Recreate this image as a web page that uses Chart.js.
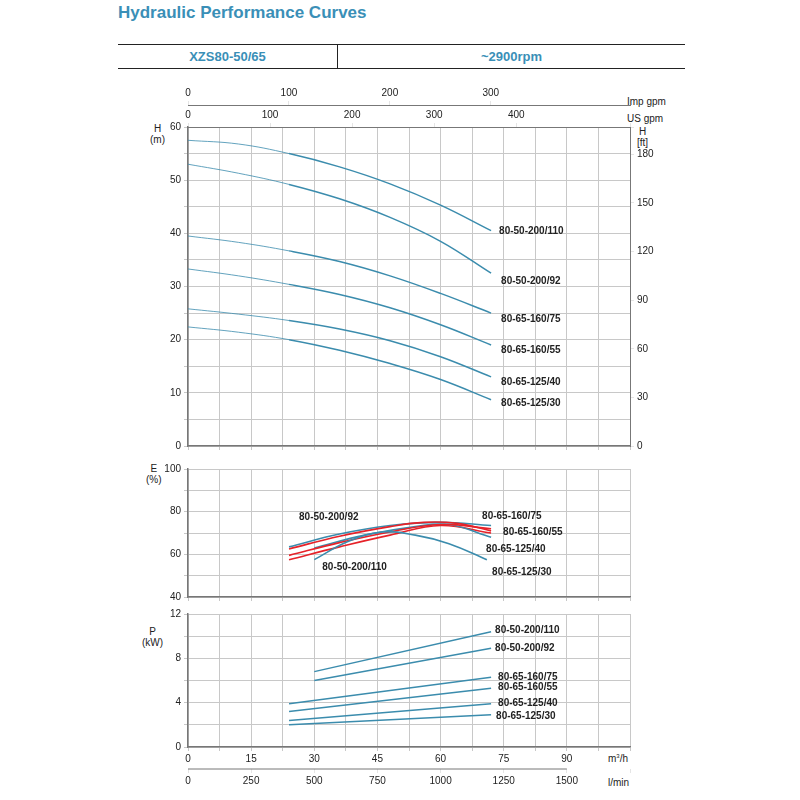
<!DOCTYPE html>
<html><head><meta charset="utf-8">
<script src="https://cdn.jsdelivr.net/npm/chart.js@4/dist/chart.umd.min.js"></script>
<style>
body{margin:0;width:800px;height:800px;position:relative;font-family:Arial,"Liberation Sans",sans-serif;background:#fff}
canvas{position:absolute}
.t{position:absolute;font-size:10px;color:#222;line-height:11px}
</style></head><body>
<div class="t" style="left:118px;top:3px;font-size:17px;line-height:20px;font-weight:bold;color:#3a8fb7">Hydraulic Performance Curves</div>
<div style="position:absolute;left:118px;top:44px;width:567px;height:23px;border-top:1.5px solid #222;border-bottom:1.5px solid #222"></div>
<div style="position:absolute;left:337px;top:44px;width:1px;height:25px;background:#222"></div>
<div class="t" style="left:118px;top:50px;width:219px;text-align:center;font-size:13px;line-height:14px;font-weight:bold;color:#3a8fb7">XZS80-50/65</div>
<div class="t" style="left:338px;top:50px;width:347px;text-align:center;font-size:13px;line-height:14px;font-weight:bold;color:#3a8fb7">~2900rpm</div>
<div class="t" style="left:627px;top:96px">Imp gpm</div>
<div class="t" style="left:627px;top:113px">US gpm</div>
<div class="t" style="left:150px;top:123px;text-align:center">H<br>(m)</div>
<div class="t" style="left:637px;top:126px;text-align:center">H<br>[ft]</div>
<div class="t" style="left:146px;top:463px;text-align:center">E<br>(%)</div>
<div class="t" style="left:142px;top:626px;text-align:center">P<br>(kW)</div>
<div class="t" style="left:608px;top:751px">m<sup style="font-size:6px">3</sup>/h</div>
<div class="t" style="left:608px;top:777px">l/min</div>
<canvas id="cH" style="left:110px;top:85px" width="570" height="370"></canvas>
<canvas id="cE" style="left:110px;top:460px" width="570" height="146"></canvas>
<canvas id="cP" style="left:110px;top:605px" width="570" height="190"></canvas>
<script>
const names = ['80-50-200/110','80-50-200/92','80-65-160/75','80-65-160/55','80-65-125/40','80-65-125/30'];
const hFlow = [0,12,24,36,48,60,72];
const hHead = [
  [57.5,56.8,55,52.5,49.3,45.3,40.5],
  [53,51.3,49.2,46.5,43,38.5,32.5],
  [39.5,38.3,36.7,34.7,32,28.7,25],
  [33.3,32,30.4,28.5,26,22.8,19],
  [25.8,24.8,23.6,22,19.8,16.8,13],
  [22.4,21.4,20,18,15.5,12.5,8.7]
];
const effNames = ['80-50-200/110','80-50-200/92','80-65-160/75','80-65-160/55','80-65-125/40','80-65-125/30'];
const effFlow = [
  [30,38,46,54,62,71],
  [24,36,48,56,64,72],
  [24,36,48,60,72],
  [24,36,48,60,72],
  [30,42,54,62,72],
  [24,36,48,60,72]
];
const effVal = [
  [57.5,66,70.5,69,65,57.5],
  [62.5,68.5,73,75,74.5,71],
  [63.5,69.5,73.5,75,73.5],
  [59.5,65.5,70.5,74,72],
  [63,69,73,74,68],
  [57.5,63.5,69,73.5,70]
];
const effColor = ['blue','red','blue','red','blue','red'];
const pFlow = [[30,72],[30,72],[24,72],[24,72],[24,72],[24,72]];
const pVal = [[6.8,10.4],[6.0,8.9],[3.9,6.3],[3.2,5.3],[2.4,3.9],[2.0,2.9]];

// label placement per chart: [point index (-1 = last), dx, dy]
const labelPos = {
  cH: [[-1,8,1],[-1,10,8],[-1,10,6],[-1,10,5],[-1,10,5],[-1,10,4]],
  cE: [[0,8,8],[0,10,-32],[-1,-9,-9],[-1,12,4],[-1,-5,12],[-1,1,39]],
  cP: [[-1,4,-1],[-1,4,0],[-1,7,0],[-1,7,-1],[-1,7,-1],[-1,5,1]]
};

const BLUE = '#3b8cad', RED = '#e62229', GRID = '#c8c8c8';
Chart.defaults.font = {family:'Arial, Liberation Sans', size:10};
Chart.defaults.color = '#222';
Chart.defaults.animation = false;

const fixW = w => ax => { ax.width = w; };
const fixH = h => ax => { ax.height = h; };
const every = (step, max) => v => (Math.abs(v / step - Math.round(v / step)) < 1e-6 && v <= max) ? Math.round(v) : '';

const labelPlugin = {
  id: 'endLabels',
  afterDatasetsDraw(chart) {
    const pos = labelPos[chart.canvas.id];
    const ctx = chart.ctx;
    ctx.save();
    ctx.font = 'bold 10px Arial, Liberation Sans';
    ctx.fillStyle = '#222';
    ctx.textBaseline = 'middle';
    chart.data.datasets.forEach((ds, i) => {
      const [at, dx, dy] = pos[i];
      const pts = chart.getDatasetMeta(i).data;
      const p = pts[at < 0 ? pts.length - 1 : at];
      if (p) ctx.fillText(ds.label, p.x + dx, p.y + dy);
    });
    ctx.restore();
  }
};

const xMain = (showTicks, h) => ({
  type:'linear', min:0, max:105, afterFit:fixH(h),
  ticks:{stepSize:7.5, display:showTicks, maxRotation:0, autoSkip:false, padding:2, callback:every(15, 90)},
  grid:{color:GRID, tickLength:4},
  border:{color:'#777', width:1.5}
});

const seg = {borderWidth: c => c.p0.parsed.x < 23.9 ? 0.8 : 1.5};

new Chart(document.getElementById('cH'), {
  type:'line',
  data:{datasets: names.map((n,i) => ({
    label:n, data: hFlow.map((x,j) => ({x, y:hHead[i][j]})),
    borderColor:BLUE, borderWidth:1.5, pointRadius:0, tension:0.4, segment:seg
  }))},
  options:{responsive:false, layout:{padding:{bottom:8}},
    plugins:{legend:{display:false}, tooltip:{enabled:false}},
    scales:{
      x: xMain(false, 0),
      imp:{type:'linear', position:'top', min:0, max:105*5.13, afterFit:fixH(22),
        ticks:{stepSize:100, maxRotation:0, autoSkip:false, padding:2, callback:every(100, 500)},
        grid:{drawOnChartArea:false, tickLength:4}, border:{color:'#777'}},
      us:{type:'linear', position:'top', min:0, max:105*4.17, afterFit:fixH(20),
        ticks:{stepSize:100, maxRotation:0, autoSkip:false, padding:2, callback:every(100, 400)},
        grid:{drawOnChartArea:false, tickLength:4}, border:{color:'#777'}},
      y:{min:0, max:60, afterFit:fixW(78),
        ticks:{stepSize:5, callback:every(10, 60)},
        grid:{color:GRID, tickLength:4}, border:{color:'#777', width:1.5}},
      ft:{position:'right', min:0, max:60*3.281, afterFit:fixW(50),
        ticks:{stepSize:30, callback:every(30, 180)}, grid:{drawOnChartArea:false, tickLength:4}, border:{color:'#777'}}
    }},
  plugins:[labelPlugin]
});

new Chart(document.getElementById('cE'), {
  type:'line',
  data:{datasets: effNames.map((n,i) => ({
    label:n, data: effFlow[i].map((x,j) => ({x, y:effVal[i][j]})),
    borderColor: effColor[i] === 'red' ? RED : BLUE, borderWidth:1.6, pointRadius:0, tension:0.4
  }))},
  options:{responsive:false, layout:{padding:{top:7, bottom:7, right:50}},
    plugins:{legend:{display:false}, tooltip:{enabled:false}},
    scales:{
      x: xMain(false, 0),
      y:{min:40, max:100, afterFit:fixW(78),
        ticks:{stepSize:10, callback:every(20, 100)},
        grid:{color:GRID, tickLength:4}, border:{color:'#777', width:1.5}}
    }},
  plugins:[labelPlugin]
});

new Chart(document.getElementById('cP'), {
  type:'line',
  data:{datasets: names.map((n,i) => ({
    label:n, data: pFlow[i].map((x,j) => ({x, y:pVal[i][j]})),
    borderColor:BLUE, borderWidth:1.5, pointRadius:0
  }))},
  options:{responsive:false, layout:{padding:{top:7, right:50}},
    plugins:{legend:{display:false}, tooltip:{enabled:false}},
    scales:{
      x: xMain(true, 22),
      lmin:{type:'linear', position:'bottom', min:0, max:1750, afterFit:fixH(26),
        ticks:{stepSize:250, maxRotation:0, autoSkip:false, padding:2, callback:every(250, 1500)},
        grid:{drawOnChartArea:false, tickLength:4}, border:{display:false}},
      y:{min:0, max:12, afterFit:fixW(78),
        ticks:{stepSize:2, callback:every(4, 12)},
        grid:{color:GRID, tickLength:4}, border:{color:'#777', width:1.5}}
    }},
  plugins:[labelPlugin,
    {id:'lminLine', afterDraw(c){ const s=c.scales.lmin, ctx=c.ctx;
      ctx.save(); ctx.strokeStyle='#777'; ctx.lineWidth=1;
      ctx.beginPath(); ctx.moveTo(s.getPixelForValue(0), s.top); ctx.lineTo(s.getPixelForValue(1500), s.top); ctx.stroke(); ctx.restore(); }}]
});
</script>
</body></html>
